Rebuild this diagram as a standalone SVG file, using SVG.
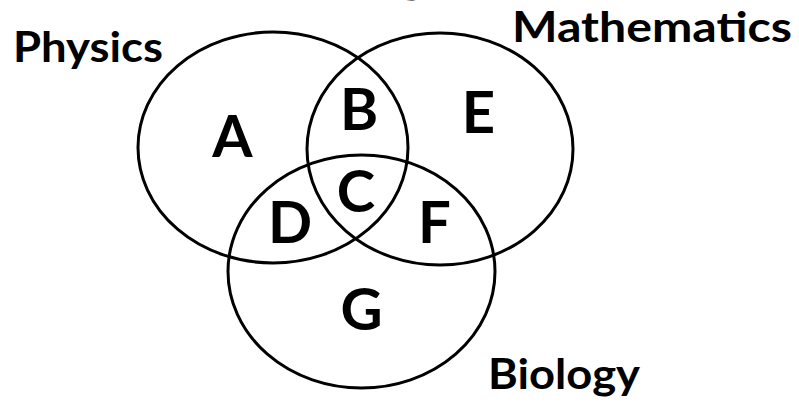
<svg xmlns="http://www.w3.org/2000/svg" width="799" height="402" viewBox="0 0 799 402">
<style>
.c{fill:none;stroke:#000;stroke-width:3}
.t{font-family:Lato,"Open Sans","Liberation Sans",sans-serif;font-weight:700;fill:#000}
.title{font-size:42px}
.l{font-size:58px;text-anchor:middle}
</style>
<rect width="799" height="402" fill="#fff"/>
<g id="physics">
<ellipse class="c" cx="273" cy="147.5" rx="135" ry="115.5"/>
<text class="t title" x="13" y="62" textLength="150" lengthAdjust="spacingAndGlyphs">Physics</text>
</g>
<g id="mathematics">
<ellipse class="c" cx="440" cy="149" rx="133" ry="116"/>
<text class="t title" x="512" y="42" textLength="280" lengthAdjust="spacingAndGlyphs">Mathematics</text>
</g>
<g id="biology">
<ellipse class="c" cx="361.5" cy="271.5" rx="133.5" ry="116.5"/>
<text class="t title" x="488" y="389" textLength="152" lengthAdjust="spacingAndGlyphs">Biology</text>
</g>
<text class="t title" x="295" y="-7" textLength="152" lengthAdjust="spacingAndGlyphs">Biology</text>
<g id="regions">
<text class="t l" x="232.5" y="157">A</text>
<text class="t l" x="359" y="130">B</text>
<text class="t l" x="478.5" y="133">E</text>
<text class="t l" x="356" y="212">C</text>
<text class="t l" x="290" y="243">D</text>
<text class="t l" x="434.5" y="243">F</text>
<text class="t l" x="361.5" y="330">G</text>
</g>
</svg>
